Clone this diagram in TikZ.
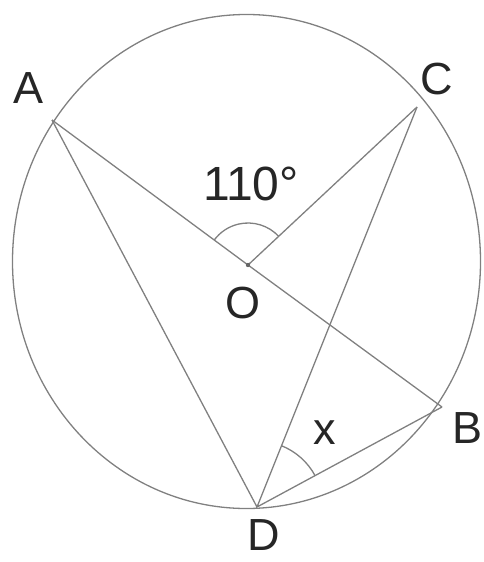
\documentclass[tikz,border=0pt]{standalone}
\usepackage{fontspec}
\setmainfont{Liberation Sans}
\usetikzlibrary{angles}
\begin{document}
\begin{tikzpicture}[x=1pt,y=1pt,
  geo/.style={draw=black!50,line width=1.3pt},
  lbl/.style={font=\fontsize{45}{45}\selectfont,text=black!85,inner sep=0pt}]
\useasboundingbox (0,0) rectangle (483,-562);
\coordinate (Oc) at (246.5,-261.5);
\coordinate (A) at (52,-120);
\coordinate (C) at (417,-107);
\coordinate (O) at (248,-265);
\coordinate (B) at (442,-407);
\coordinate (D) at (257,-507);
\draw[geo] (Oc) ellipse [x radius=234, y radius=247];
\draw[geo] (A) -- (O) -- (B);
\draw[geo] (O) -- (C);
\draw[geo] (A) -- (D);
\draw[geo] (C) -- (D) -- (B);
\fill[black!60] (O) circle (2.2);
\pic[geo, angle radius=42pt] {angle = C--O--A};
\pic[geo, angle radius=66pt] {angle = B--D--C};
\node[lbl] (lA) at (29,-88) {A};
\node[lbl] (lC) at (437,-79) {C};
\node[lbl] (lO) at (243,-303) {O};
\node[lbl] (lB) at (468,-428) {B};
\node[lbl,anchor=base] (lD) at (264,-550) {D};
\node[lbl] (lx) at (325,-433) {x};
\node[lbl,font=\fontsize{48}{48}\selectfont] (lang) at (251,-184) {110°};
\end{tikzpicture}
\end{document}
